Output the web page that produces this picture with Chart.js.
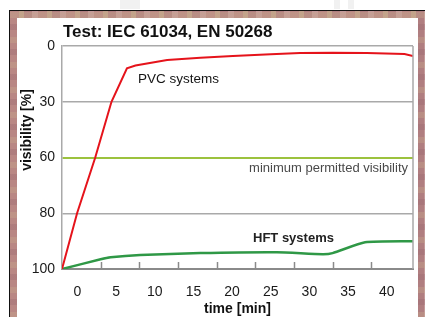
<!DOCTYPE html>
<html>
<head>
<meta charset="utf-8">
<script src="https://cdn.jsdelivr.net/npm/chart.js@4"></script>
<style>
  html,body{margin:0;padding:0;background:#fff;width:425px;height:317px;overflow:hidden;}
  #frame{position:absolute;left:9px;top:10px;width:416px;height:307px;border-top:1px solid #111;border-left:1px solid #111;
    background:
      repeating-linear-gradient(0deg,rgba(200,170,140,0.35) 0 6px,rgba(0,0,0,0) 6px 13px,rgba(150,100,110,0.3) 13px 19px,rgba(0,0,0,0) 19px 25px),
      repeating-linear-gradient(90deg,#b98784 0 9px,#c0a08a 9px 14px,#b07e80 14px 22px,#c49a9a 22px 28px);}
  #panel{position:absolute;left:17px;top:18px;width:401px;height:299px;background:#fff;}
  .blk{position:absolute;top:0;height:9px;background:#f1f1f1;}
  #wrap{position:absolute;left:0;top:0;width:425px;height:317px;}
</style>
</head>
<body>
<div class="blk" style="left:120px;width:20px"></div>
<div class="blk" style="left:334px;width:6px"></div>
<div class="blk" style="left:348px;width:6px"></div>
<div id="frame"></div>
<div id="panel"></div>
<div id="wrap"><canvas id="c"></canvas></div>
<script>
// ---- data ----
const yLevels = [0, 30, 60, 80, 100];          // tick labels of the (non-linear) visibility axis
const xTickValues = [0, 5, 10, 15, 20, 25, 30, 35, 40];
const xTickMarks = [3, 8, 13, 18, 23, 28, 33, 38];
const pvcTime = [-2, -0.05, 2.3, 4.4, 6.4, 7.5, 11.6, 15.9, 20.1, 25, 28.8, 33, 37.4, 42.3, 43.4];
const pvcVis  = [100, 80, 60, 30, 12, 10.5, 7.5, 6.3, 5.4, 4.5, 3.8, 3.6, 3.8, 4.3, 5.4];
const hftTime = [-2, 3.0, 4.3, 8.1, 15.9, 25.8, 31.7, 33.0, 37.2, 43.4];
const hftVis  = [100, 96.5, 95.8, 95.0, 94.3, 94.0, 94.7, 94.3, 90.4, 90.0];
const minVisibility = 60;

// map a visibility percentage onto the evenly spaced axis levels
function visToPos(v){
  for(let i=0;i<yLevels.length-1;i++){
    const a=yLevels[i], b=yLevels[i+1];
    if(v<=b){ return i + (v-a)/(b-a); }
  }
  return yLevels.length-1;
}
const pts=(xs,ys)=>xs.map((x,i)=>({x:x,y:visToPos(ys[i])}));

const FONT="'Liberation Sans', Arial, Helvetica, sans-serif";

const decor = {
  id:'decor',
  afterDraw(chart){
    const {ctx, chartArea:ca, scales:{x}} = chart;
    ctx.save();
    // right border of plot
    ctx.strokeStyle='#a9a9a9'; ctx.lineWidth=1.5;
    ctx.beginPath(); ctx.moveTo(ca.right, ca.top); ctx.lineTo(ca.right, ca.bottom); ctx.stroke();
    // inward tick marks
    ctx.strokeStyle='#8a8a8a'; ctx.lineWidth=1.5;
    xTickMarks.forEach(v=>{const px=Math.round(x.getPixelForValue(v))+0.5;
      ctx.beginPath(); ctx.moveTo(px, ca.bottom); ctx.lineTo(px, ca.bottom-7); ctx.stroke();});
    // title
    ctx.fillStyle='#111'; ctx.textBaseline='middle'; ctx.textAlign='left';
    ctx.font='bold 17px '+FONT;
    ctx.fillText('Test: IEC 61034, EN 50268', ca.left+1, 32);
    // y axis title
    ctx.save();
    ctx.translate(27, 130); ctx.rotate(-Math.PI/2);
    ctx.textAlign='center'; ctx.font='bold 14px '+FONT; ctx.fillStyle='#111';
    ctx.fillText('visibility [%]', 0, 0);
    ctx.restore();
    // annotations
    ctx.textAlign='left';
    ctx.font='13.5px '+FONT; ctx.fillStyle='#151515';
    ctx.fillText('PVC systems', 138, 79);
    ctx.font='13px '+FONT; ctx.fillStyle='#4a4a4a'; ctx.textAlign='right';
    ctx.fillText('minimum permitted visibility', 408, 168);
    ctx.font='bold 13px '+FONT; ctx.fillStyle='#222'; ctx.textAlign='left';
    ctx.fillText('HFT systems', 253, 238);
    ctx.restore();
  }
};

new Chart(document.getElementById('c'), {
  type:'line',
  data:{datasets:[
    {label:'PVC systems', data:pts(pvcTime,pvcVis), borderColor:'#e5131b', borderWidth:2, pointRadius:0, tension:0, fill:false},
    {label:'HFT systems', data:pts(hftTime,hftVis), borderColor:'#2f9846', borderWidth:2.5, pointRadius:0, tension:0.2, fill:false}
  ]},
  options:{
    responsive:true, maintainAspectRatio:false, animation:false, devicePixelRatio:1,
    layout:{padding:{left:0, top:46, right:12, bottom:0}},
    plugins:{legend:{display:false}, tooltip:{enabled:false}, title:{display:false}},
    scales:{
      x:{type:'linear', min:-2, max:43.4,
        afterBuildTicks(s){ s.ticks = xTickValues.map(v=>({value:v})); },
        afterFit(s){ s.height = 48; },
        grid:{display:false},
        border:{display:true, color:'#8a8a8a', width:2},
        ticks:{padding:7, color:'#1a1a1a', font:{family:FONT, size:14}, maxRotation:0, autoSkip:false},
        title:{display:true, text:'time [min]', color:'#111', font:{family:FONT, size:14, weight:'bold'}, padding:{top:0,bottom:-1}}
      },
      y:{type:'linear', min:0, max:yLevels.length-1, reverse:true,
        afterBuildTicks(s){ s.ticks = yLevels.map((v,i)=>({value:i})); },
        afterFit(s){ s.width = 62; },
        grid:{drawTicks:false,
          color(c){ const v=yLevels[c.index]; if(v===minVisibility) return '#9cc23e'; if(v===100) return 'rgba(0,0,0,0)'; return '#a9a9a9'; },
          lineWidth(c){ return yLevels[c.index]===minVisibility ? 2 : 1.5; }},
        border:{display:true, color:'#a9a9a9', width:1.5},
        ticks:{padding:7, color:'#1a1a1a', font:{family:FONT, size:14}, autoSkip:false,
          callback(v, i){ return String(yLevels[i]); }},
        title:{display:false}
      }
    }
  },
  plugins:[decor]
});
</script>
</body>
</html>
